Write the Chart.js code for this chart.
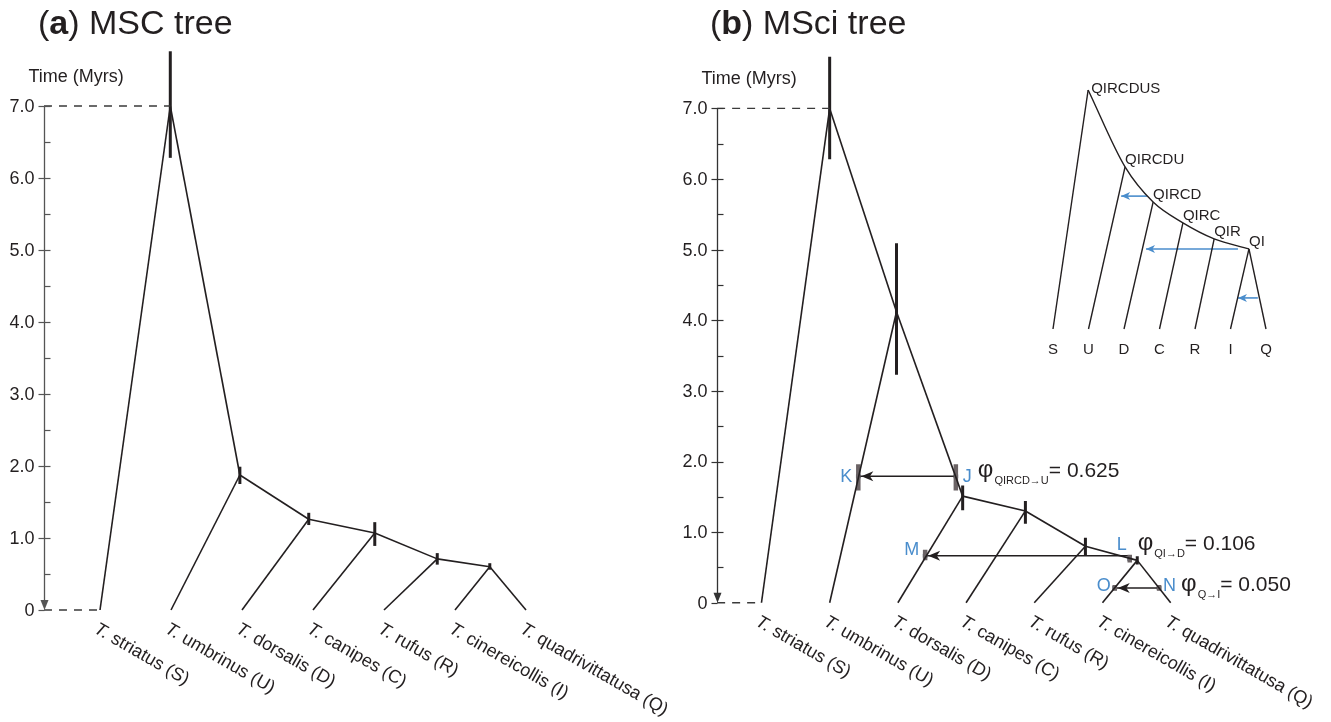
<!DOCTYPE html>
<html lang="en">
<head>
<meta charset="UTF-8">
<title>MSC and MSci trees</title>
<script src="https://cdn.jsdelivr.net/npm/chart.js"></script>
<style>
    html, body { margin: 0; padding: 0; background: #fff; }
    body { position: relative; width: 1331px; height: 722px; overflow: hidden; }
    canvas { position: absolute; }
    #mscChart { left: 0; top: 0; }
    #msciChart { left: 665px; top: 0; }
    #insetChart { left: 1030px; top: 60px; }
</style>
</head>
<body>
<canvas id="mscChart" width="700" height="722"></canvas>
<canvas id="msciChart" width="666" height="722"></canvas>
<canvas id="insetChart" width="270" height="310"></canvas>
<script>
// ---- data ----
const tipNames = ['T. striatus (S)', 'T. umbrinus (U)', 'T. dorsalis (D)', 'T. canipes (C)',
                  'T. rufus (R)', 'T. cinereicollis (I)', 'T. quadrivittatusa (Q)'];
const tipCodes = ['S', 'U', 'D', 'C', 'R', 'I', 'Q'];
const tipPos = [0, 1, 2, 3, 4, 5, 6];
const timeTicks = [0, 1, 2, 3, 4, 5, 6, 7];
const timeTickLabels = ['0', '1.0', '2.0', '3.0', '4.0', '5.0', '6.0', '7.0'];

// (a) MSC tree: internal nodes, ages (Myrs) and HPD bars
const mscNodes = ['SUDCRIQ', 'UDCRIQ', 'DCRIQ', 'CRIQ', 'RIQ', 'IQ'];
const mscNodePos = [0.99, 1.97, 2.94, 3.87, 4.75, 5.49];
const mscAge = [7.0, 1.875, 1.26, 1.07, 0.71, 0.60];
const mscHpdLow = [6.28, 1.75, 1.18, 0.89, 0.63, 0.56];
const mscHpdHigh = [7.76, 1.99, 1.35, 1.22, 0.79, 0.65];
const mscParent = ['SUDCRIQ', 'SUDCRIQ', 'UDCRIQ', 'UDCRIQ', 'DCRIQ', 'DCRIQ', 'CRIQ', 'CRIQ', 'RIQ', 'RIQ', 'IQ', 'IQ'];
const mscChild = ['S', 'UDCRIQ', 'U', 'DCRIQ', 'D', 'CRIQ', 'C', 'RIQ', 'R', 'IQ', 'I', 'Q'];

// (b) MSci tree
const msciNodes = ['QIRCDUS', 'QIRCDU', 'QIRCD', 'QIRC', 'QIR', 'QI'];
const msciNodePos = [1.0, 1.98, 2.95, 3.87, 4.75, 5.51];
const msciAge = [7.0, 4.12, 1.51, 1.30, 0.80, 0.60];
const msciHpdLow = [6.28, 3.23, 1.31, 1.12, 0.67, 0.54];
const msciHpdHigh = [7.73, 5.09, 1.66, 1.44, 0.92, 0.66];
const msciParent = ['QIRCDUS', 'QIRCDUS', 'QIRCDU', 'QIRCDU', 'QIRCD', 'QIRCD', 'QIRC', 'QIRC', 'QIR', 'QIR', 'QI', 'QI'];
const msciChild = ['S', 'QIRCDU', 'U', 'QIRCD', 'D', 'QIRC', 'C', 'QIR', 'R', 'QI', 'I', 'Q'];

// hybridization nodes
const hybNames = ['K', 'J', 'M', 'L', 'O', 'N'];
const hybPos = [1.42, 2.85, 2.40, 5.40, 5.18, 5.83];
const hybAge = [1.79, 1.79, 0.665, 0.62, 0.21, 0.21];
const hybLow = [1.59, 1.59, 0.60, 0.57, 0.17, 0.17];
const hybHigh = [1.96, 1.96, 0.75, 0.68, 0.25, 0.25];

// introgression events
const introFrom = ['J', 'L', 'N'];
const introTo = ['K', 'M', 'O'];
const introLabel = ['QIRCD\u2192U', 'QI\u2192D', 'Q\u2192I'];
const introPhi = [0.625, 0.106, 0.050];

// inset topology
const insetNodes = ['QIRCDUS', 'QIRCDU', 'QIRCD', 'QIRC', 'QIR', 'QI'];
const insetNodePos = [0.99, 2.03, 2.82, 3.66, 4.54, 5.52];
const insetHeight = [1.0, 0.678, 0.531, 0.444, 0.377, 0.335];
const insetParent = ['QIRCDUS', 'QIRCDU', 'QIRCD', 'QIRC', 'QIR', 'QI', 'QI'];
const insetChild = ['S', 'U', 'D', 'C', 'R', 'I', 'Q'];
const insetArrowFrom = [2.65, 5.21, 5.77];
const insetArrowTo = [1.92, 2.62, 5.21];
const insetArrowHeight = [0.556, 0.335, 0.13];

// ---- styles ----
const INK = '#231f20';
const BLUE = '#4a8dcc';
const GREY_BAR = '#6b6365';
const FONT = '"Liberation Sans", Arial, Helvetica, sans-serif';

// label offsets (pixels) for hybrid node letters and phi text
const hybLabelStyle = {
    K: { dx: -6, dy: 0, align: 'right' },
    J: { dx: 7, dy: 0, align: 'left' },
    M: { dx: -6, dy: -7, align: 'right' },
    L: { dx: -3, dy: -15, align: 'right' },
    O: { dx: -4, dy: -3, align: 'right' },
    N: { dx: 4, dy: -3, align: 'left' }
};
const phiStyle = { J: { dx: 22, dy: 1 }, L: { dx: 8, dy: -9 }, N: { dx: 22, dy: 3 } };

function axisRange(originPx, unitPx, sizePx, inverted) {
    if (inverted) return { min: -(sizePx - originPx) / unitPx, max: originPx / unitPx };
    return { min: -originPx / unitPx, max: (sizePx - originPx) / unitPx };
}

function lookup(names, pos, val) {
    const m = {};
    names.forEach((n, i) => { m[n] = { x: pos[i], y: val[i] }; });
    return m;
}

function seg(a, b, extra) {
    return Object.assign({
        type: 'line',
        data: [{ x: a.x, y: a.y }, { x: b.x, y: b.y }],
        borderColor: INK,
        borderWidth: 1.6,
        pointRadius: 0,
        fill: false,
        tension: 0
    }, extra || {});
}

function baseOptions(xr, yr) {
    return {
        responsive: false,
        animation: false,
        devicePixelRatio: 1,
        events: [],
        layout: { padding: 0 },
        scales: {
            x: { type: 'linear', min: xr.min, max: xr.max, display: false },
            y: { type: 'linear', min: yr.min, max: yr.max, display: false }
        },
        plugins: { legend: { display: false }, tooltip: { enabled: false }, title: { display: false } }
    };
}

function drawTitle(ctx, x, base, letter, rest) {
    ctx.fillStyle = INK;
    ctx.textAlign = 'left';
    ctx.textBaseline = 'alphabetic';
    ctx.font = '34px ' + FONT;
    ctx.fillText('(', x, base);
    x += ctx.measureText('(').width;
    ctx.font = 'bold 34px ' + FONT;
    ctx.fillText(letter, x, base);
    x += ctx.measureText(letter).width;
    ctx.font = '34px ' + FONT;
    ctx.fillText(') ' + rest, x, base);
}

function drawTimeAxis(chart, axisX, color) {
    const { ctx, scales: { x, y } } = chart;
    const ax = Math.round(x.getPixelForValue(axisX)) + 0.5;
    const top = y.getPixelForValue(7), bot = y.getPixelForValue(0);
    ctx.save();
    ctx.strokeStyle = color;
    ctx.fillStyle = color;
    ctx.lineWidth = 1.3;
    ctx.beginPath();
    ctx.moveTo(ax, top);
    ctx.lineTo(ax, bot - 6);
    ctx.stroke();
    ctx.beginPath();
    ctx.moveTo(ax, bot);
    ctx.lineTo(ax - 4, bot - 10);
    ctx.lineTo(ax + 4, bot - 10);
    ctx.closePath();
    ctx.fill();
    ctx.lineWidth = 1.2;
    timeTicks.forEach(v => {
        const py = Math.round(y.getPixelForValue(v)) + 0.5;
        ctx.beginPath();
        ctx.moveTo(ax - 6, py);
        ctx.lineTo(ax + (v === 0 ? 0 : 6), py);
        ctx.stroke();
        if (v < 7) {
            const pm = Math.round(y.getPixelForValue(v + 0.5)) + 0.5;
            ctx.beginPath();
            ctx.moveTo(ax, pm);
            ctx.lineTo(ax + 6, pm);
            ctx.stroke();
        }
    });
    ctx.fillStyle = INK;
    ctx.font = '18px ' + FONT;
    ctx.textAlign = 'right';
    ctx.textBaseline = 'middle';
    timeTicks.forEach((v, i) => ctx.fillText(timeTickLabels[i], ax - 10, y.getPixelForValue(v) + 1));
    ctx.textAlign = 'left';
    ctx.textBaseline = 'alphabetic';
    ctx.fillText('Time (Myrs)', ax - 16, top - 24);
    ctx.restore();
}

function drawTipLabels(chart) {
    const { ctx, scales: { x, y } } = chart;
    ctx.save();
    ctx.fillStyle = INK;
    ctx.textBaseline = 'alphabetic';
    ctx.textAlign = 'left';
    tipNames.forEach((name, i) => {
        const px = x.getPixelForValue(tipPos[i]), py = y.getPixelForValue(0);
        ctx.save();
        ctx.translate(px - 7, py + 22);
        ctx.rotate(30 * Math.PI / 180);
        ctx.font = 'italic 18px ' + FONT;
        const genus = name.slice(0, 2);
        ctx.fillText(genus, 0, 0);
        const w = ctx.measureText(genus).width;
        ctx.font = '18px ' + FONT;
        ctx.fillText(name.slice(2), w, 0);
        ctx.restore();
    });
    ctx.restore();
}

function arrowHead(ctx, tipX, tipY, len, half) {
    // points to the left
    ctx.beginPath();
    ctx.moveTo(tipX, tipY);
    ctx.lineTo(tipX + len, tipY - half);
    ctx.lineTo(tipX + len * 0.72, tipY);
    ctx.lineTo(tipX + len, tipY + half);
    ctx.closePath();
    ctx.fill();
}

// ---- (a) MSC chart ----
const mscPts = lookup(mscNodes.concat(tipCodes), mscNodePos.concat(tipPos), mscAge.concat(tipPos.map(() => 0)));
const mscAxisX = -0.789;
const dashStyle = { borderColor: '#3a3a3a', borderWidth: 1.3, borderDash: [8, 7] };
const mscDatasets = [];
mscDatasets.push(seg({ x: mscAxisX, y: 7 }, mscPts.SUDCRIQ, dashStyle));
mscDatasets.push(seg({ x: mscAxisX, y: 0 }, mscPts.S, dashStyle));
mscParent.forEach((p, i) => mscDatasets.push(seg(mscPts[p], mscPts[mscChild[i]])));
mscNodes.forEach((n, i) => mscDatasets.push(seg({ x: mscNodePos[i], y: mscHpdLow[i] }, { x: mscNodePos[i], y: mscHpdHigh[i] }, { borderWidth: 3 })));

const mscOpts = baseOptions(axisRange(100, 71, 700, false), axisRange(610, 72, 722, true));
new Chart(document.getElementById('mscChart'), {
    type: 'line',
    data: { datasets: mscDatasets },
    options: mscOpts,
    plugins: [{
        id: 'mscDecor',
        afterDatasetsDraw(chart) {
            const ctx = chart.ctx;
            ctx.save();
            drawTitle(ctx, 38, 34, 'a', 'MSC tree');
            ctx.restore();
            drawTimeAxis(chart, mscAxisX, '#555');
            drawTipLabels(chart);
        }
    }]
});

// ---- (b) MSci chart ----
const msciPts = lookup(msciNodes.concat(tipCodes).concat(hybNames),
    msciNodePos.concat(tipPos).concat(hybPos),
    msciAge.concat(tipPos.map(() => 0)).concat(hybAge));
const msciAxisX = -0.650;
const msciDatasets = [];
msciDatasets.push(seg({ x: msciAxisX, y: 7 }, msciPts.QIRCDUS, dashStyle));
msciDatasets.push(seg({ x: msciAxisX, y: 0 }, msciPts.S, dashStyle));
msciParent.forEach((p, i) => msciDatasets.push(seg(msciPts[p], msciPts[msciChild[i]])));
msciNodes.forEach((n, i) => msciDatasets.push(seg({ x: msciNodePos[i], y: msciHpdLow[i] }, { x: msciNodePos[i], y: msciHpdHigh[i] }, { borderWidth: 3 })));
hybNames.forEach((n, i) => msciDatasets.push(seg({ x: hybPos[i], y: hybLow[i] }, { x: hybPos[i], y: hybHigh[i] }, { borderWidth: 4.5, borderColor: GREY_BAR })));
introFrom.forEach((f, i) => {
    const to = msciPts[introTo[i]];
    msciDatasets.push(seg({ x: msciPts[f].x, y: to.y }, to, { borderWidth: 1.5 }));
});
msciDatasets.push({
    type: 'line',
    data: hybNames.map((n, i) => ({ x: hybPos[i], y: hybAge[i] })),
    showLine: false,
    pointStyle: 'rect',
    pointRadius: 2.6,
    pointBackgroundColor: '#3f90da',
    pointBorderColor: '#1c2e44',
    pointBorderWidth: 0.8
});

const msciOpts = baseOptions(axisRange(93, 69.2, 666, false), axisRange(606, 71.57, 722, true));
new Chart(document.getElementById('msciChart'), {
    type: 'line',
    data: { datasets: msciDatasets },
    options: msciOpts,
    plugins: [{
        id: 'msciDecor',
        afterDatasetsDraw(chart) {
            const { ctx, scales: { x, y } } = chart;
            ctx.save();
            drawTitle(ctx, 45, 34, 'b', 'MSci tree');
            ctx.restore();
            drawTimeAxis(chart, msciAxisX, '#333');
            drawTipLabels(chart);
            ctx.save();
            // arrow heads
            ctx.fillStyle = INK;
            introTo.forEach(t => {
                arrowHead(ctx, x.getPixelForValue(msciPts[t].x) + 3, y.getPixelForValue(msciPts[t].y), 12, 5);
            });
            // hybrid node letters
            ctx.fillStyle = BLUE;
            ctx.font = '18px ' + FONT;
            ctx.textBaseline = 'middle';
            hybNames.forEach((n, i) => {
                const s = hybLabelStyle[n];
                ctx.textAlign = s.align;
                ctx.fillText(n, x.getPixelForValue(hybPos[i]) + s.dx, y.getPixelForValue(hybAge[i]) + s.dy + 1);
            });
            // phi labels
            ctx.fillStyle = INK;
            ctx.textAlign = 'left';
            ctx.textBaseline = 'alphabetic';
            introFrom.forEach((f, i) => {
                const s = phiStyle[f];
                let px = x.getPixelForValue(msciPts[f].x) + s.dx;
                const base = y.getPixelForValue(msciPts[f].y) + s.dy;
                ctx.font = '24px ' + FONT;
                ctx.fillText('\u03c6', px, base);
                px += ctx.measureText('\u03c6').width + 1;
                ctx.font = '11px ' + FONT;
                ctx.fillText(introLabel[i], px, base + 7);
                px += ctx.measureText(introLabel[i]).width;
                ctx.font = '21px ' + FONT;
                ctx.fillText('= ' + introPhi[i].toFixed(3), px, base);
            });
            ctx.restore();
        }
    }]
});

// ---- inset topology chart ----
const insetPts = lookup(insetNodes.concat(tipCodes), insetNodePos.concat(tipPos), insetHeight.concat(tipPos.map(() => 0)));
const insetDatasets = [];
insetDatasets.push({
    type: 'line',
    data: insetNodes.map((n, i) => ({ x: insetNodePos[i], y: insetHeight[i] })),
    borderColor: INK,
    borderWidth: 1.4,
    pointRadius: 0,
    fill: false,
    cubicInterpolationMode: 'monotone'
});
insetParent.forEach((p, i) => insetDatasets.push(seg(insetPts[p], insetPts[insetChild[i]], { borderWidth: 1.4 })));
insetArrowFrom.forEach((f, i) => insetDatasets.push(seg({ x: f, y: insetArrowHeight[i] }, { x: insetArrowTo[i], y: insetArrowHeight[i] }, { borderColor: BLUE, borderWidth: 1.6 })));

const insetOpts = baseOptions(axisRange(23, 35.5, 270, false), axisRange(269, 239, 310, true));
new Chart(document.getElementById('insetChart'), {
    type: 'line',
    data: { datasets: insetDatasets },
    options: insetOpts,
    plugins: [{
        id: 'insetDecor',
        afterDatasetsDraw(chart) {
            const { ctx, scales: { x, y } } = chart;
            ctx.save();
            ctx.fillStyle = BLUE;
            insetArrowTo.forEach((t, i) => arrowHead(ctx, x.getPixelForValue(t), y.getPixelForValue(insetArrowHeight[i]), 9, 4));
            ctx.fillStyle = INK;
            ctx.font = '15px ' + FONT;
            ctx.textAlign = 'left';
            ctx.textBaseline = 'middle';
            insetNodes.forEach((n, i) => {
                const root = i === 0;
                ctx.fillText(n, x.getPixelForValue(insetNodePos[i]) + (root ? 3 : 0), y.getPixelForValue(insetHeight[i]) + (root ? -1 : -7));
            });
            ctx.textAlign = 'center';
            ctx.font = '15px ' + FONT;
            tipCodes.forEach((c, i) => ctx.fillText(c, x.getPixelForValue(tipPos[i]), y.getPixelForValue(0) + 21));
            ctx.restore();
        }
    }]
});
</script>
</body>
</html>
